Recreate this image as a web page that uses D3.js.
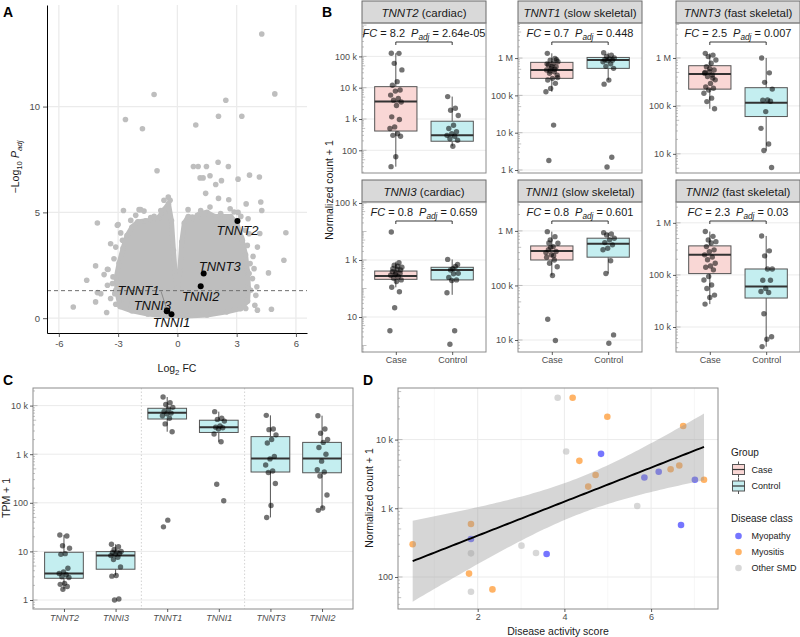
<!DOCTYPE html>
<html><head><meta charset="utf-8">
<script src="https://cdn.jsdelivr.net/npm/d3@7"></script>
<style>body{margin:0;background:#fff}svg{display:block;font-family:"Liberation Sans",Arial,Helvetica,sans-serif}</style>
</head><body><svg id="chart" width="800" height="637"></svg>
<script>
// ===================== DATA =====================
// Panel A: volcano
const aXTicks = [-6, -3, 0, 3, 6];
const aYTicks = [0, 5, 10];
const cloudFC = [-2.9,-3.05,-3.1,-2.95,-2.75,-2.55,-2.3,-2.0,-1.6,-1.25,-0.95,-0.7,-0.45,-0.3,-0.2,-0.1,0.0,0.12,0.22,0.35,0.55,0.85,1.15,1.5,1.9,2.3,2.7,3.0,3.25,3.45,3.55,3.6,3.55,3.2,2.5,1.5,0.5,-0.5,-1.5,-2.3];
const cloudP  = [0.55,1.2,1.9,2.6,3.3,3.9,4.3,4.55,4.6,4.6,4.75,5.1,5.4,4.6,3.2,2.0,1.4,2.2,3.6,4.5,4.8,4.7,4.95,5.0,4.8,4.8,4.8,4.5,3.8,3.0,2.2,1.4,0.8,0.45,0.3,0.15,0.1,0.1,0.2,0.35];
const scatterFC = [4.27,4.93,-1.18,2.45,-2.63,-1.77,2.08,3.26,0.93,-1.03,0.81,1.05,1.47,2.06,2.58,3.65,4.15,3.07,1.15,1.3,1.65,2.23,1.94,1.43,2.08,2.6,3.48,4.22,4.27,5.49,5.39,4.61,4.76,4.05,4.17,4.05,3.83,3.58,3.07,-2.73,-4.05,-1.94,-1.69,-0.68,-0.46,-3.04,-2.87,-3.38,-4.14,-4.59,-4.05,-4.14,-5.27,-3.58,-3.54,-3.71,-3.17,-3.29,-2.28,
  -3.0,-2.78,-3.12,-3.21,-3.51,-3.26,-3.04,-3.54,-3.12,-3.88,-3.38,-3.12,-2.78,-2.36,-2.11,-1.86,-1.35,-1.18,-0.98,-0.84,-0.37,
  0.54,0.76,1.01,1.18,0.98,1.38,1.65,1.86,2.19,2.4,2.67,2.87,3.21,3.43,3.63,3.29,3.54,3.68,3.88,3.63,3.8,4.02,3.71,3.97,3.54,3.92,3.46];
const scatterP = [13.43,10.6,10.57,10.3,9.39,8.95,9.54,9.54,9.13,6.97,7.17,7.17,7.17,7.37,7.17,6.76,6.67,6.57,6.63,6.63,6.73,6.5,6.32,5.9,5.66,5.6,5.4,5.49,5.09,4.04,2.74,2.14,0.42,0.38,4.0,3.36,2.92,4.7,5.0,5.09,4.5,5.13,5.06,5.57,5.72,4.39,4.03,3.52,2.47,1.79,1.21,0.77,0.53,0.27,2.31,2.06,1.16,1.64,0.77,
  4.43,3.68,3.36,2.81,2.3,1.95,1.71,1.56,1.32,1.16,0.93,0.66,0.64,4.62,4.86,5.13,4.75,4.81,4.7,5.09,5.57,
  5.13,4.78,4.86,5.09,4.7,4.94,5.25,4.62,4.94,4.78,5.17,5.02,4.81,4.15,3.99,3.68,3.44,2.58,2.34,2.11,1.87,1.48,1.32,1.08,0.85,0.61,0.46];
const geneLabels = ["TNNT2", "TNNT3", "TNNI2", "TNNT1", "TNNI3", "TNNI1"];
const geneFC = [3.04, 1.33, 1.18, -0.52, -0.54, -0.30];
const geneP  = [4.59, 2.11, 1.51, 0.36, 0.33, 0.19];
const pCutoff = 0.05;

// Panel B: boxplots per gene
const bGenes = ["TNNT2", "TNNT1", "TNNT3", "TNNI3", "TNNI1", "TNNI2"];
const bTypes = ["cardiac", "slow skeletal", "fast skeletal", "cardiac", "slow skeletal", "fast skeletal"];
const bFC = ["8.2", "0.7", "2.5", "0.8", "0.8", "2.3"];
const bPadj = ["2.64e-05", "0.448", "0.007", "0.659", "0.601", "0.03"];
const bGroups = ["Case", "Control"];
const bTicks = [[100, 1e3, 1e4, 1e5], [1e3, 1e4, 1e5, 1e6], [1e4, 1e5, 1e6], [10, 1e3, 1e5], [1e4, 1e5, 1e6], [1e4, 1e5, 1e6]];
const bCase = [
  [126000,125000,60000,37000,15600,12000,8400,7800,5800,4500,4000,3500,2700,1170,960,560,500,340,300,280,62,30],
  [1340000,980000,880000,800000,720000,650000,585000,525000,478000,430000,390000,350000,286000,258000,210000,154000,125000,16000,1800,900000,600000,700000,500000,450000,300000],
  [1250000,1150000,1070000,910000,775000,660000,560000,520000,480000,440000,410000,350000,295000,250000,233000,215000,184000,145000,123000,87000,600000,500000,380000],
  [9600,800,660,555,470,390,340,310,290,260,230,200,175,110,77,21,3.3,600,500,450,350],
  [970000,785000,685000,595000,515000,450000,420000,365000,330000,293000,255000,220000,152000,24000,9800,500000,400000,350000,600000],
  [680000,550000,470000,435000,410000,350000,303000,280000,243000,220000,195000,168000,148000,140000,125000,93000,80000,64000,55000,41000,37000,27500]
];
const bControl = [
  [5200,2200,1900,1300,630,500,390,340,300,280,235,210,135],
  [1390000,1200000,1100000,1000000,950000,900000,880000,850000,800000,700000,600000,530000,257000,200000,2200,1200],
  [1000000,490000,310000,224000,133000,131000,125000,76000,34000,16000,11700,5200],
  [1050,590,445,340,330,245,200,190,71,3.3,1.1,700,500],
  [930000,880000,845000,735000,685000,610000,555000,480000,450000,283000,166000,12400,8700],
  [560000,290000,232000,130000,130000,79000,79000,55000,48000,46000,18000,6500,5800,4200]
];
// [lower whisker, Q1, median, Q3, upper whisker]
const bCaseBox = [[30,413,3600,10800,126000],[125000,286000,478000,768000,1340000],[87000,224000,464000,690000,1250000],[110,210,275,410,870],[152000,293000,430000,530000,970000],[27500,106000,243000,361000,680000]];
const bControlBox = [[135,195,300,850,5200],[257000,530000,883000,1040000,1390000],[11700,60000,117000,240000,1000000],[60,200,445,555,1050],[166000,330000,580000,735000,930000],[4200,36000,60000,130000,560000]];

// Panel C: TPM in controls
const cGenes = ["TNNT2", "TNNI3", "TNNT1", "TNNI1", "TNNT3", "TNNI2"];
const cTicks = [1, 10, 100, 1000, 10000];
const cValues = [
  [21.7,20.8,13.1,11.6,9.0,8.7,4.5,3.8,3.5,3.3,3.0,2.9,2.2,2.1,1.9,1.66],
  [14,12.5,11,10,9.8,9.5,9,8.7,8.2,7.6,6.8,4.8,3.2,3.1,1.05,1.0],
  [15000,11500,10500,9200,8500,7600,7000,6800,6200,5500,4200,2900,44,32],
  [7500,5500,5200,4800,3800,3600,3500,3300,2600,1800,240,110],
  [6300,3300,3200,2500,2000,1700,900,800,600,450,420,250,88,50],
  [6200,3300,2700,2000,1750,1370,1000,720,480,430,355,145,78,70]
];
const cBox = [[1.66,2.8,3.5,9.6,21.8],[3.2,4.3,8.2,9.9,14],[2900,5300,7150,8800,15000],[1800,2800,3600,5000,7500],[50,430,820,2300,6300],[77,415,820,1750,6200]];

// Panel D: disease activity vs count
const dScore = [0.50,1.845,1.845,1.845,1.80,1.845,2.34,3.01,3.345,3.59,3.845,4.19,4.99,4.04,4.845,4.345,4.72,4.55,5.68,6.74,5.845,6.175,6.45,6.65,7.01,7.22,6.69];
const dCount = [300,590,357,221,112,61,66,286,224,216,40700,40700,21500,6700,6200,4900,3050,2070,1080,15800,2800,3400,3700,4200,2600,2600,570];
const dClass = ["Myositis","Myositis","Myopathy","Other SMD","Myositis","Other SMD","Myositis","Other SMD","Other SMD","Myopathy","Other SMD","Myositis","Myositis","Other SMD","Myopathy","Myositis","Myositis","Myositis","Other SMD","Myositis","Myopathy","Myopathy","Myositis","Myositis","Myopathy","Myositis","Myopathy"];
const dClasses = ["Myopathy", "Myositis", "Other SMD"];
const dXTicks = [2, 4, 6];
const dYTicks = [100, 1000, 10000];

// ===================== HELPERS =====================
const svg = d3.select("#chart");
const GRID = "#ebebeb", TXT = "#4d4d4d", BORDER = "#8c8c8c";
const caseFill = "#f9d7d5", ctrlFill = "#c4eef0";
const classColor = {"Myopathy": "#2b2bff", "Myositis": "#ff8a14", "Other SMD": "#bdbdbd"};
const classOpacity = {"Myopathy": 0.65, "Myositis": 0.65, "Other SMD": 0.6};

function txt(g, x, y, parts, o = {}) {
  const fs = o.fs || 10;
  const t = g.append("text").attr("x", x).attr("y", y).attr("font-size", fs)
    .attr("fill", o.fill || "#1a1a1a").attr("text-anchor", o.anchor || "start");
  if (o.rotate) t.attr("transform", `rotate(-90,${x},${y})`);
  if (o.bold) t.attr("font-weight", "bold");
  let sub = false;
  (typeof parts === "string" ? [{t: parts}] : parts).forEach(p => {
    const s = t.append("tspan").text(p.t);
    if (p.i) s.attr("font-style", "italic");
    if (p.dx) s.attr("dx", p.dx);
    if (p.sub) { s.attr("font-size", fs * 0.75); if (!sub) { s.attr("dy", fs * 0.3); sub = true; } }
    else if (sub) { s.attr("dy", -fs * 0.3); sub = false; }
  });
  return t;
}
function styleAxis(g, fs) {
  g.attr("font-family", null).attr("font-size", fs || 9);
  g.selectAll(".tick line").attr("stroke", "#333").attr("stroke-width", 0.8);
  g.selectAll(".tick text").attr("fill", TXT);
}
function logMinor(g, y, x0, lo, hi) {
  const vals = [];
  for (let k = Math.floor(lo); k <= Math.ceil(hi); k++)
    for (let m = 1; m <= 9; m++) { const v = m * Math.pow(10, k), lv = Math.log10(v); if (lv >= lo && lv <= hi) vals.push([v, m]); }
  g.selectAll(null).data(vals).join("line")
    .attr("x1", x0).attr("x2", d => x0 + (d[1] === 1 ? 4.5 : d[1] === 5 ? 3.2 : 2))
    .attr("y1", d => y(d[0])).attr("y2", d => y(d[0])).attr("stroke", "#9a9a9a").attr("stroke-width", 0.6);
}
const jit = i => ((i * 0.618034 + 0.137) % 1) - 0.5;
const fmtCount = v => v >= 1e6 ? (v / 1e6) + " M" : v >= 1e3 ? (v / 1e3) + " k" : String(v);

function boxplot(g, cx, bw, y, s, fill) {
  g.append("line").attr("x1", cx).attr("x2", cx).attr("y1", y(s[0])).attr("y2", y(s[1])).attr("stroke", "#555").attr("stroke-width", 1);
  g.append("line").attr("x1", cx).attr("x2", cx).attr("y1", y(s[3])).attr("y2", y(s[4])).attr("stroke", "#555").attr("stroke-width", 1);
  g.append("rect").attr("x", cx - bw / 2).attr("width", bw).attr("y", y(s[3])).attr("height", y(s[1]) - y(s[3]))
    .attr("fill", fill).attr("stroke", "#555").attr("stroke-width", 1);
  g.append("line").attr("x1", cx - bw / 2).attr("x2", cx + bw / 2).attr("y1", y(s[2])).attr("y2", y(s[2])).attr("stroke", "#333").attr("stroke-width", 2);
}
function jitterPoints(g, vals, cx, spread, y) {
  g.selectAll(null).data(vals).join("circle")
    .attr("cx", (d, i) => cx + jit(i) * spread).attr("cy", d => y(d)).attr("r", 2.7)
    .attr("fill", "#000").attr("fill-opacity", 0.55);
}

// ===================== PANEL A =====================
{
  const g = svg.append("g");
  const x0 = 47, x1 = 307, y0 = 5, y1 = 333;
  const x = d3.scaleLinear().domain([-6.6, 6.56]).range([x0, x1]);
  const y = d3.scaleLinear().domain([-0.7, 14.8]).range([y1, y0]);
  g.selectAll(null).data(aXTicks).join("line").attr("x1", d => x(d)).attr("x2", d => x(d)).attr("y1", y0).attr("y2", y1).attr("stroke", GRID).attr("stroke-width", 1.3);
  g.selectAll(null).data(aYTicks).join("line").attr("y1", d => y(d)).attr("y2", d => y(d)).attr("x1", x0).attr("x2", x1).attr("stroke", GRID).attr("stroke-width", 1.3);
  const grey = "#bebebe";
  const pts = d3.zip(cloudFC, cloudP);
  g.append("path").datum(pts).attr("d", d3.line().x(d => x(d[0])).y(d => y(d[1])).curve(d3.curveLinearClosed))
    .attr("fill", grey).attr("stroke", grey).attr("stroke-width", 5).attr("stroke-linejoin", "round");
  g.selectAll(null).data(pts).join("circle").attr("cx", d => x(d[0])).attr("cy", d => y(d[1])).attr("r", 2.8).attr("fill", grey);
  g.selectAll(null).data(d3.zip(scatterFC, scatterP)).join("circle").attr("cx", d => x(d[0])).attr("cy", d => y(d[1])).attr("r", 2.8).attr("fill", grey);
  g.append("line").attr("x1", x0).attr("x2", x1).attr("y1", y(-Math.log10(pCutoff))).attr("y2", y(-Math.log10(pCutoff)))
    .attr("stroke", "#6e6e6e").attr("stroke-width", 1).attr("stroke-dasharray", "4,3");
  const lab = d3.zip(geneLabels, geneFC, geneP);
  const off = {TNNT2: [0, 13.7], TNNT3: [16, -3], TNNI2: [0, 14.3], TNNT1: [-28.7, -16], TNNI3: [-14.3, -1.7], TNNI1: [0, 13.3]};
  // leader for TNNT1
  const t1 = lab.find(d => d[0] === "TNNT1");
  g.append("line").attr("x1", x(t1[1])).attr("y1", y(t1[2])).attr("x2", x(t1[1]) - 6).attr("y2", y(t1[2]) - 19).attr("stroke", "#666").attr("stroke-width", 0.6);
  g.selectAll(null).data(lab).join("circle").attr("cx", d => x(d[1])).attr("cy", d => y(d[2])).attr("r", 3).attr("fill", "#000");
  lab.forEach(d => txt(g, x(d[1]) + off[d[0]][0], y(d[2]) + off[d[0]][1], [{t: d[0], i: true}], {fs: 13, anchor: "middle", fill: "#111"}));
  const ax = g.append("g").attr("transform", `translate(0,${y1})`).call(d3.axisBottom(x).tickValues(aXTicks).tickSize(4).tickSizeOuter(0).tickFormat(d => d));
  styleAxis(ax, 9.5); ax.select(".domain").attr("stroke", "#000");
  const ay = g.append("g").attr("transform", `translate(${x0},0)`).call(d3.axisLeft(y).tickValues(aYTicks).tickSize(4).tickSizeOuter(0));
  styleAxis(ay, 9.5); ay.select(".domain").attr("stroke", "#000");
  txt(g, 177, 372, [{t: "Log"}, {t: "2", sub: true}, {t: " FC"}], {fs: 10.5, anchor: "middle"});
  txt(g, 19, 167, [{t: "\u2212Log"}, {t: "10", sub: true}, {t: " "}, {t: "P", i: true}, {t: "adj", i: true, sub: true}], {fs: 10.5, anchor: "middle", rotate: true});
  txt(g, 3, 17, "A", {fs: 14, bold: true, fill: "#000"});
}

// ===================== PANEL B =====================
{
  const g = svg.append("g");
  const colX = [362, 518, 676], rowY = [23, 202], W = 124, H = 150, SH = 22;
  const logDom = [[1.275, 6.067], [2.92, 6.94], [3.6, 6.73], [-0.228, 5.035], [3.78, 6.53], [3.52, 6.40]];
  bGenes.forEach((gene, i) => {
    const px = colX[i % 3], py = rowY[Math.floor(i / 3)];
    const x = d3.scalePoint().domain(bGroups).range([px, px + W]).padding(0.6);
    const step = x.step(), bw = step * 0.75;
    const y = d3.scaleLog().domain([Math.pow(10, logDom[i][0]), Math.pow(10, logDom[i][1])]).range([py + H, py]);
    // strip
    g.append("rect").attr("x", px).attr("y", py - SH).attr("width", W).attr("height", SH).attr("fill", "#d9d9d9").attr("stroke", "#6b6b6b").attr("stroke-width", 1);
    txt(g, px + W / 2, py - 6.5, [{t: gene, i: true}, {t: " (" + bTypes[i] + ")"}], {fs: 11.5, anchor: "middle"});
    // grid
    g.selectAll(null).data(bTicks[i]).join("line").attr("x1", px).attr("x2", px + W).attr("y1", d => y(d)).attr("y2", d => y(d)).attr("stroke", GRID).attr("stroke-width", 1);
    logMinor(g, y, px, logDom[i][0], logDom[i][1]);
    boxplot(g, x("Case"), bw, y, bCaseBox[i], caseFill);
    boxplot(g, x("Control"), bw, y, bControlBox[i], ctrlFill);
    jitterPoints(g, bCase[i], x("Case"), step * 0.22, y);
    jitterPoints(g, bControl[i], x("Control"), step * 0.22, y);
    g.append("rect").attr("x", px).attr("y", py).attr("width", W).attr("height", H).attr("fill", "none").attr("stroke", BORDER).attr("stroke-width", 1);
    const ay = g.append("g").attr("transform", `translate(${px},0)`).call(d3.axisLeft(y).tickValues(bTicks[i]).tickSize(3).tickPadding(2).tickFormat(fmtCount));
    styleAxis(ay, 9); ay.select(".domain").remove();
    if (Math.floor(i / 3) === 1) {
      const ax = g.append("g").attr("transform", `translate(0,${py + H})`).call(d3.axisBottom(x).tickSize(3).tickPadding(2));
      styleAxis(ax, 9); ax.select(".domain").remove();
    }
    // annotation
    txt(g, px + W / 2, py + 14, [{t: "FC", i: true}, {t: " = " + bFC[i]}, {t: "P", i: true, dx: 6}, {t: "adj", i: true, sub: true}, {t: " = " + bPadj[i]}], {fs: 11, anchor: "middle"});
    const by = py + 19;
    g.append("path").attr("d", `M${x("Case")},${by + 3}V${by}H${x("Control")}V${by + 3}`).attr("fill", "none").attr("stroke", "#222").attr("stroke-width", 0.9);
  });
  txt(g, 333, 190, "Normalized count + 1", {fs: 10.5, anchor: "middle", rotate: true});
  txt(g, 322, 17, "B", {fs: 14, bold: true, fill: "#000"});
}

// ===================== PANEL C =====================
{
  const g = svg.append("g");
  const x0 = 33, x1 = 353, y0 = 388, y1 = 609;
  const x = d3.scalePoint().domain(cGenes).range([x0, x1]).padding(0.6);
  const step = x.step();
  const lo = -0.185, hi = 4.362;
  const y = d3.scaleLog().domain([Math.pow(10, lo), Math.pow(10, hi)]).range([y1, y0]);
  g.selectAll(null).data(cTicks).join("line").attr("x1", x0).attr("x2", x1).attr("y1", d => y(d)).attr("y2", d => y(d)).attr("stroke", GRID).attr("stroke-width", 1);
  [1.5, 3.5].forEach(k => {
    const sx = (x(cGenes[Math.floor(k)]) + x(cGenes[Math.ceil(k)])) / 2;
    g.append("line").attr("x1", sx).attr("x2", sx).attr("y1", y0).attr("y2", y1).attr("stroke", "#c8c8c8").attr("stroke-width", 0.8).attr("stroke-dasharray", "1.5,2");
  });
  logMinor(g, y, x0, lo, hi);
  cGenes.forEach((gn, i) => {
    boxplot(g, x(gn), step * 0.75, y, cBox[i], ctrlFill);
    jitterPoints(g, cValues[i], x(gn), step * 0.22, y);
  });
  g.append("rect").attr("x", x0).attr("y", y0).attr("width", x1 - x0).attr("height", y1 - y0).attr("fill", "none").attr("stroke", BORDER).attr("stroke-width", 1);
  const ay = g.append("g").attr("transform", `translate(${x0},0)`).call(d3.axisLeft(y).tickValues(cTicks).tickSize(3).tickPadding(2).tickFormat(fmtCount));
  styleAxis(ay, 9); ay.select(".domain").remove();
  const ax = g.append("g").attr("transform", `translate(0,${y1})`).call(d3.axisBottom(x).tickSize(3).tickPadding(3));
  styleAxis(ax, 9); ax.select(".domain").remove(); ax.selectAll(".tick text").attr("font-style", "italic");
  txt(g, 10, 498, "TPM + 1", {fs: 10.5, anchor: "middle", rotate: true});
  txt(g, 3, 385, "C", {fs: 14, bold: true, fill: "#000"});
}

// ===================== PANEL D =====================
{
  const g = svg.append("g");
  const x0 = 398, x1 = 718, y0 = 388, y1 = 609;
  const x = d3.scaleLinear().domain([0.1615, 7.543]).range([x0, x1]);
  const lo = 1.534, hi = 4.751;
  const y = d3.scaleLog().domain([Math.pow(10, lo), Math.pow(10, hi)]).range([y1, y0]);
  [1, 3, 5, 7].forEach(v => g.append("line").attr("x1", x(v)).attr("x2", x(v)).attr("y1", y0).attr("y2", y1).attr("stroke", "#f3f3f3").attr("stroke-width", 0.7));
  g.selectAll(null).data(dXTicks).join("line").attr("x1", d => x(d)).attr("x2", d => x(d)).attr("y1", y0).attr("y2", y1).attr("stroke", GRID).attr("stroke-width", 1);
  g.selectAll(null).data(dYTicks).join("line").attr("x1", x0).attr("x2", x1).attr("y1", d => y(d)).attr("y2", d => y(d)).attr("stroke", GRID).attr("stroke-width", 1);
  logMinor(g, y, x0, lo, hi);
  const pts = d3.zip(dScore, dCount, dClass);
  g.selectAll(null).data(pts).join("circle").attr("cx", d => x(d[0])).attr("cy", d => y(d[1])).attr("r", 3.3)
    .attr("fill", d => classColor[d[2]]).attr("fill-opacity", d => classOpacity[d[2]]);
  // linear fit in log space with 95% CI
  const n = dScore.length, ly = dCount.map(Math.log10);
  const xb = d3.mean(dScore), yb = d3.mean(ly);
  const sxx = d3.sum(dScore, v => (v - xb) ** 2), sxy = d3.sum(dScore.map((v, i) => (v - xb) * (ly[i] - yb)));
  const b1 = sxy / sxx, b0 = yb - b1 * xb;
  const s = Math.sqrt(d3.sum(dScore.map((v, i) => (ly[i] - b0 - b1 * v) ** 2)) / (n - 2));
  const tq = 2.0595;
  const xs = d3.range(81).map(k => d3.min(dScore) + k * (d3.max(dScore) - d3.min(dScore)) / 80);
  const band = xs.map(v => { const f = b0 + b1 * v, se = s * Math.sqrt(1 / n + (v - xb) ** 2 / sxx); return [v, Math.pow(10, f - tq * se), Math.pow(10, f + tq * se), Math.pow(10, f)]; });
  g.append("path").datum(band).attr("d", d3.area().x(d => x(d[0])).y0(d => y(d[1])).y1(d => y(d[2])))
    .attr("fill", "#999999").attr("fill-opacity", 0.4);
  g.append("path").datum(band).attr("d", d3.line().x(d => x(d[0])).y(d => y(d[3]))).attr("fill", "none").attr("stroke", "#000").attr("stroke-width", 1.9);
  g.append("rect").attr("x", x0).attr("y", y0).attr("width", x1 - x0).attr("height", y1 - y0).attr("fill", "none").attr("stroke", BORDER).attr("stroke-width", 1);
  const ay = g.append("g").attr("transform", `translate(${x0},0)`).call(d3.axisLeft(y).tickValues(dYTicks).tickSize(3).tickPadding(2).tickFormat(fmtCount));
  styleAxis(ay, 9); ay.select(".domain").remove();
  const ax = g.append("g").attr("transform", `translate(0,${y1})`).call(d3.axisBottom(x).tickValues(dXTicks).tickSize(3).tickPadding(2));
  styleAxis(ax, 9); ax.select(".domain").remove();
  txt(g, 558, 635, "Disease activity score", {fs: 10.5, anchor: "middle"});
  txt(g, 373, 498, "Normalized count + 1", {fs: 10.5, anchor: "middle", rotate: true});
  txt(g, 363, 385, "D", {fs: 14, bold: true, fill: "#000"});

  // legend
  const L = svg.append("g");
  txt(L, 731, 456, "Group", {fs: 10});
  [["Case", caseFill, 469.5], ["Control", ctrlFill, 486]].forEach(([name, f, cy]) => {
    L.append("line").attr("x1", 738.5).attr("x2", 738.5).attr("y1", cy - 8).attr("y2", cy + 8).attr("stroke", "#555");
    L.append("rect").attr("x", 732.5).attr("y", cy - 5).attr("width", 12).attr("height", 10).attr("fill", f).attr("stroke", "#555");
    L.append("line").attr("x1", 732.5).attr("x2", 744.5).attr("y1", cy).attr("y2", cy).attr("stroke", "#333").attr("stroke-width", 1.2);
    txt(L, 751.5, cy + 3.2, name, {fs: 9});
  });
  txt(L, 731, 522, "Disease class", {fs: 10});
  dClasses.forEach((c, i) => {
    const cy = 536 + i * 16;
    L.append("circle").attr("cx", 738.5).attr("cy", cy).attr("r", 3.3).attr("fill", classColor[c]).attr("fill-opacity", classOpacity[c]);
    txt(L, 751.5, cy + 3.2, c, {fs: 9});
  });
}
</script></body></html>
